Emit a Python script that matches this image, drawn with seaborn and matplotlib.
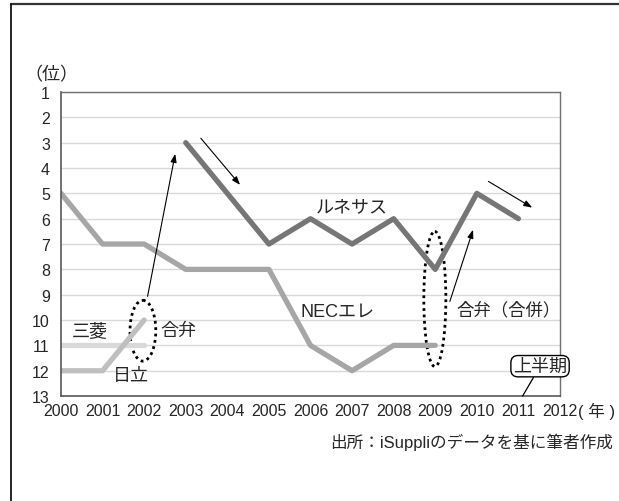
import numpy as np
import pandas as pd
import matplotlib
matplotlib.use("Agg")
import matplotlib.pyplot as plt
from matplotlib.patches import Ellipse
from matplotlib.lines import Line2D
import seaborn as sns

# data (rank, 1 = top)
years = list(range(2000, 2013))
nec_years = [2000, 2001, 2002, 2003, 2004, 2005, 2006, 2007, 2008, 2009]
nec_rank = [5, 7, 7, 8, 8, 8, 11, 12, 11, 11]
ren_years = [2003, 2004, 2005, 2006, 2007, 2008, 2009, 2010, 2011]
ren_rank = [3, 5, 7, 6, 7, 6, 8, 5, 6]
mit_years = [2000, 2001, 2002]
mit_rank = [11, 11, 11]
hit_years = [2000, 2001, 2002]
hit_rank = [12, 12, 10]
ranks = list(range(1, 14))

sns.set_style("white")
plt.rcParams['font.family'] = ['Liberation Sans', 'Noto Sans CJK JP']

fig = plt.figure(figsize=(6.19, 5.02), dpi=100)
ax = fig.add_axes([0.0985, 0.209, 0.8062, 0.6057])

lw = 3.8
sns.lineplot(x=mit_years, y=mit_rank, color="#d9d9d9", lw=lw, ax=ax)
sns.lineplot(x=hit_years, y=hit_rank, color="#bfbfbf", lw=lw, ax=ax)
sns.lineplot(x=nec_years, y=nec_rank, color="#a6a6a6", lw=lw, ax=ax)
sns.lineplot(x=ren_years, y=ren_rank, color="#767676", lw=lw, ax=ax)

ax.set_xlim(2000, 2012)
ax.set_ylim(13, 1)
ax.set_xticks(years)
ax.set_xticklabels([str(y) for y in years])
ax.set_yticks(ranks)
ax.set_yticklabels([str(r) for r in ranks])
ax.yaxis.grid(True, color="#d9d9d9", lw=1)
ax.xaxis.grid(False)
ax.tick_params(axis="x", direction="in", length=6, width=1, color="#595959",
               labelsize=11.5, pad=5)
ax.tick_params(axis="y", length=0, labelsize=11.5, pad=8)
for s in ["left", "bottom"]:
    ax.spines[s].set_color("#595959")
    ax.spines[s].set_linewidth(1.2)
for s in ["top", "right"]:
    ax.spines[s].set_color("#707070")
    ax.spines[s].set_linewidth(1)
ax.set_xlabel("")
ax.set_ylabel("")

# dotted ellipses
ax.add_patch(Ellipse((2001.97, 10.42), 0.62, 2.4, fill=False, ec="black",
                     ls=(0, (1, 1.3)), lw=2))
ax.add_patch(Ellipse((2008.99, 9.17), 0.53, 5.33, fill=False, ec="black",
                     ls=(0, (1, 1.3)), lw=2))

arr = dict(arrowstyle="-|>,head_length=0.5,head_width=0.18", color="black", lw=0.8)
ax.annotate("", xy=(2002.76, 3.33), xytext=(2002.07, 9.17), arrowprops=arr)
ax.annotate("", xy=(2004.35, 4.75), xytext=(2003.32, 2.74), arrowprops=arr)
ax.annotate("", xy=(2009.93, 6.33), xytext=(2009.33, 9.37), arrowprops=arr)
ax.annotate("", xy=(2011.39, 5.62), xytext=(2010.22, 4.47), arrowprops=arr)

fs = 13
ax.text(2007.0, 5.54, "ルネサス", fontsize=fs, ha="center", va="center")
ax.text(2005.75, 9.65, "NECエレ", fontsize=fs, ha="left", va="center")
ax.text(2002.4, 10.43, "合弁", fontsize=fs, ha="left", va="center")
ax.text(2000.7, 10.42, "三菱", fontsize=fs, ha="center", va="center")
ax.text(2001.68, 12.17, "日立", fontsize=fs, ha="center", va="center")
ax.text(2009.52, 9.57, "合弁（合併）", fontsize=12.5, ha="left", va="center")
ax.annotate("上半期", xy=(2011.1, 13), xytext=(2011.52, 11.82), fontsize=fs,
            ha="center", va="center",
            bbox=dict(boxstyle="round,pad=0.12,rounding_size=0.4", fc="white", ec="black", lw=1),
            arrowprops=dict(arrowstyle="-", color="black", lw=0.9,
                            shrinkA=0, shrinkB=0))

ax.text(1.036, -0.047, "( 年 )", transform=ax.transAxes, fontsize=12,
        ha="left", va="center")
fig.text(0.04, 0.85, "（位）", fontsize=fs, ha="left", va="center")
fig.text(0.99, 0.118, "出所：iSuppliのデータを基に筆者作成", fontsize=12,
         ha="right", va="center")

# outer frame
fig.add_artist(Line2D([0.017, 1.0], [0.991, 0.991], color="#333333", lw=1.6,
                      transform=fig.transFigure))
fig.add_artist(Line2D([0.017, 0.017], [0.0, 0.991], color="black", lw=1.2,
                      transform=fig.transFigure))

fig.savefig("out.png", dpi=100)
